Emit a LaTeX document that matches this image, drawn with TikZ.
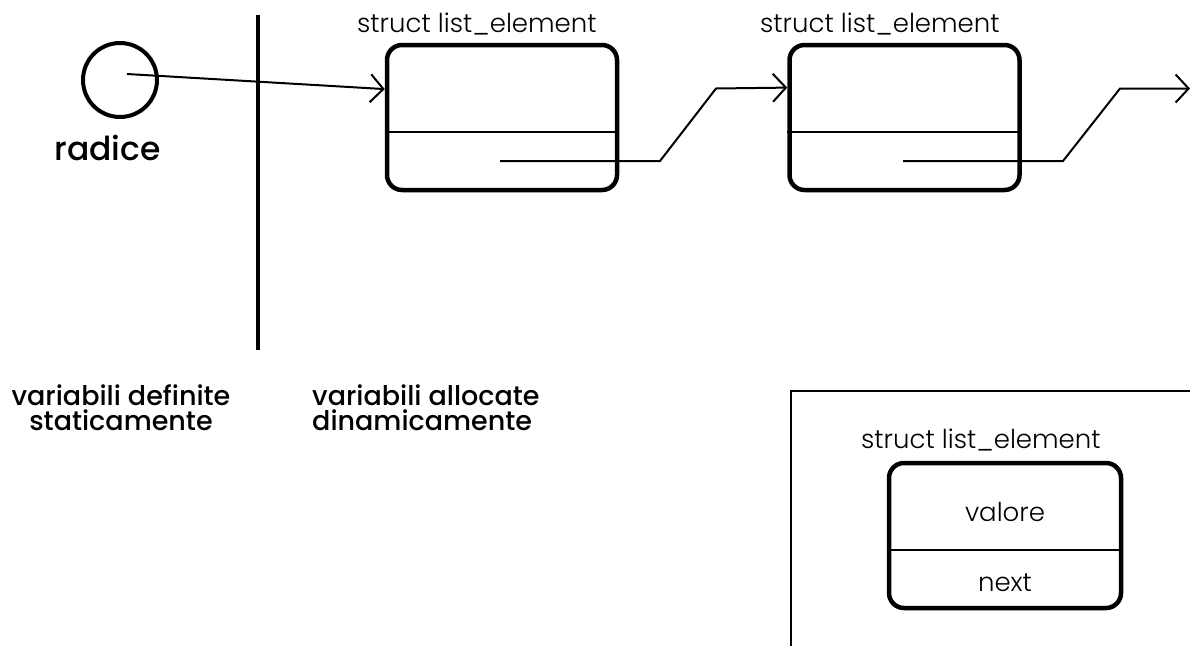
\documentclass[tikz,border=0pt]{standalone}
\usepackage{fontspec}
\setmainfont{Poppins}[UprightFont=* Light, BoldFont=* Medium]
\usetikzlibrary{arrows.meta,calc}
\tikzset{
  elem/.style={draw, line width=4.5pt, rounded corners=15pt, minimum width=230pt, minimum height=145pt, inner sep=0pt},
  thin/.style={line width=2pt},
  ptr/.style={thin, -{Straight Barb[length=13pt,width=28pt,line width=2pt]}},
  lbl/.style={font=\fontsize{26}{28}\selectfont, inner sep=0pt, anchor=base},
  blbl/.style={font=\fontsize{27}{27}\bfseries\selectfont, inner sep=0pt, anchor=base},
}
\begin{document}
\begin{tikzpicture}[x=1pt,y=-1pt]
\useasboundingbox (0,0) rectangle (1190,646);

% root pointer
\node[draw, circle, line width=4pt, minimum size=74pt, inner sep=0pt] (radice) at (120,80) {};
\node[blbl, font=\fontsize{33}{33}\bfseries\selectfont] (rlabel) at (107.5,160) {radice};
\coordinate (rstart) at (127,74);

% boundary between static and dynamic variables
\coordinate (sepTop) at (258,15);
\coordinate (sepBot) at (258,350);
\draw[line width=4pt] (sepTop) -- (sepBot);

% list elements
\node[elem] (e1) at (502,117.5) {};
\node[elem] (e2) at (904.5,117.5) {};
\node[lbl, anchor=base west] (t1) at (357,32) {struct list\_element};
\node[lbl, anchor=base west] (t2) at (760,32) {struct list\_element};
\draw[thin] ($(e1.north west)!0.6!(e1.south west)$) -- ($(e1.north east)!0.6!(e1.south east)$);
\draw[thin] ($(e2.north west)!0.6!(e2.south west)$) -- ($(e2.north east)!0.6!(e2.south east)$);

\draw[ptr] (rstart) -- ($(e1.north west)!0.31!(e1.south west)$);

\coordinate (n1) at (500,161);
\coordinate (n1a) at (660,161);
\coordinate (n1b) at (716,88.5);
\draw[ptr] (n1) -- (n1a) -- (n1b) -- ($(e2.north west)!0.3!(e2.south west)$);

\coordinate (n2) at (903,161);
\coordinate (n2a) at (1063,161);
\coordinate (n2b) at (1120,88.5);
\coordinate (n2end) at (1190,88.5);
\draw[ptr] (n2) -- (n2a) -- (n2b) -- (n2end);

% captions
\node[blbl] (stat1) at (121,405) {variabili definite};
\node[blbl] (stat2) at (121,430) {staticamente};
\node[blbl, anchor=base west] (dyn1) at (312,405) {variabili allocate};
\node[blbl, anchor=base west] (dyn2) at (312,430) {dinamicamente};

% legend
\coordinate (lgTR) at (1190,391);
\coordinate (lgTL) at (791,391);
\coordinate (lgBL) at (791,646);
\draw[thin] (lgTR) -- (lgTL) -- (lgBL);
\node[lbl, anchor=base west] (t3) at (861,448) {struct list\_element};
\node[elem, minimum width=232pt] (e3) at (1005,535.5) {};
\draw[thin] ($(e3.north west)!0.6!(e3.south west)$) -- ($(e3.north east)!0.6!(e3.south east)$);
\node[lbl] (valore) at (1005,521) {valore};
\node[lbl] (next) at (1005,591) {next};
\end{tikzpicture}
\end{document}
